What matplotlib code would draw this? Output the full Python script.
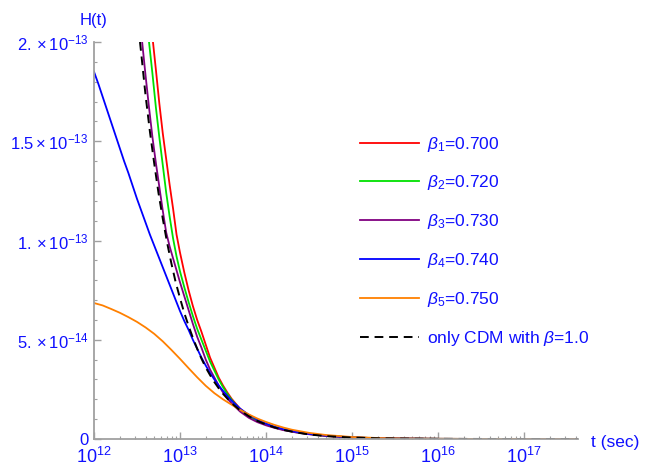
import numpy as np
import matplotlib
matplotlib.use("Agg")
import matplotlib.pyplot as plt
from matplotlib.ticker import LogLocator, NullFormatter, FixedLocator

FONT = "Liberation Sans"
plt.rcParams["font.family"] = [FONT, "DejaVu Sans"]
plt.rcParams["mathtext.fontset"] = "custom"
plt.rcParams["mathtext.rm"] = FONT
plt.rcParams["mathtext.it"] = FONT + ":italic"
plt.rcParams["mathtext.bf"] = FONT + ":bold"

# H(t), t as log10(sec), H in units of 1e-13
red_logt = [12.686, 12.72, 12.76, 12.80, 12.84, 12.88, 12.92, 12.96, 13.00, 13.05,
            13.10, 13.15, 13.20, 13.25, 13.30, 13.35, 13.40, 13.45, 13.50, 13.55,
            13.60, 13.70, 13.80, 13.90, 14.00, 14.10, 14.20, 14.35, 14.5, 14.7,
            15.0, 15.3, 15.6, 16.0, 16.5, 17.0, 17.63]
red_h = [2.00, 1.86, 1.69, 1.54, 1.41, 1.28, 1.16, 1.03, 0.94, 0.84,
         0.75, 0.67, 0.60, 0.54, 0.475, 0.41, 0.36, 0.31, 0.27, 0.235,
         0.203, 0.152, 0.117, 0.092, 0.075, 0.060, 0.048, 0.035, 0.025, 0.016,
         0.008, 0.004, 0.002, 0.0008, 0.0003, 0.0001, 0.0]

green_logt = [12.64, 12.68, 12.72, 12.76, 12.80, 12.84, 12.88, 12.92, 12.96, 13.00,
              13.05, 13.10, 13.15, 13.20, 13.25, 13.30, 13.35, 13.40, 13.45, 13.50,
              13.55, 13.60, 13.70, 13.80, 13.90, 14.00, 14.10, 14.20, 14.35, 14.5,
              14.7, 15.0, 15.3, 15.6, 16.0, 16.5, 17.0, 17.63]
green_h = [2.00, 1.84, 1.67, 1.52, 1.38, 1.24, 1.12, 1.01, 0.92, 0.845,
           0.765, 0.69, 0.62, 0.555, 0.50, 0.445, 0.39, 0.345, 0.30, 0.262,
           0.228, 0.198, 0.149, 0.115, 0.090, 0.073, 0.059, 0.047, 0.034, 0.025,
           0.016, 0.008, 0.004, 0.002, 0.0008, 0.0003, 0.0001, 0.0]

purple_logt = [12.56, 12.60, 12.64, 12.68, 12.72, 12.76, 12.80, 12.84, 12.88, 12.92,
               12.96, 13.00, 13.05, 13.10, 13.15, 13.20, 13.25, 13.30, 13.35, 13.40,
               13.45, 13.50, 13.55, 13.60, 13.70, 13.80, 13.90, 14.00, 14.10, 14.20,
               14.35, 14.5, 14.7, 15.0, 15.3, 15.6, 16.0, 16.5, 17.0, 17.63]
purple_h = [2.00, 1.83, 1.67, 1.52, 1.39, 1.27, 1.15, 1.04, 0.97, 0.91,
            0.85, 0.79, 0.72, 0.65, 0.58, 0.515, 0.46, 0.40, 0.35, 0.31,
            0.27, 0.235, 0.205, 0.18, 0.138, 0.107, 0.085, 0.069, 0.056, 0.045,
            0.033, 0.024, 0.015, 0.0075, 0.0037, 0.0019, 0.0007, 0.0003, 0.0001, 0.0]

blue_logt = [12.00, 12.05, 12.10, 12.15, 12.20, 12.25, 12.30, 12.35, 12.40, 12.45,
             12.50, 12.55, 12.60, 12.65, 12.70, 12.75, 12.80, 12.85, 12.90, 12.95,
             13.00, 13.05, 13.10, 13.15, 13.20, 13.25, 13.30, 13.35, 13.40, 13.45,
             13.50, 13.60, 13.70, 13.80, 13.90, 14.00, 14.10, 14.20, 14.35, 14.5,
             14.7, 15.0, 15.3, 15.6, 16.0, 16.5, 17.0, 17.63]
blue_h = [1.85, 1.79, 1.725, 1.66, 1.595, 1.53, 1.465, 1.40, 1.34, 1.275,
          1.21, 1.15, 1.09, 1.03, 0.975, 0.92, 0.865, 0.81, 0.755, 0.70,
          0.645, 0.595, 0.55, 0.50, 0.455, 0.41, 0.37, 0.333, 0.30, 0.27,
          0.243, 0.193, 0.153, 0.122, 0.097, 0.078, 0.062, 0.05, 0.036, 0.026,
          0.017, 0.0082, 0.004, 0.002, 0.0008, 0.0003, 0.0001, 0.0]

orange_logt = [12.0, 12.1, 12.2, 12.3, 12.4, 12.5, 12.6, 12.7, 12.8, 12.9,
               13.0, 13.1, 13.2, 13.3, 13.4, 13.5, 13.6, 13.7, 13.8, 13.9,
               14.0, 14.1, 14.2, 14.3, 14.5, 14.7, 15.0, 15.3, 15.6, 16.0,
               16.5, 17.0, 17.63]
orange_h = [0.685, 0.673, 0.655, 0.636, 0.614, 0.590, 0.562, 0.530, 0.492, 0.449,
            0.404, 0.357, 0.311, 0.268, 0.231, 0.200, 0.173, 0.147, 0.124, 0.103,
            0.086, 0.071, 0.058, 0.047, 0.031, 0.02, 0.01, 0.005, 0.0025, 0.001,
            0.0003, 0.0001, 0.0]

cdm_logt = [12.535, 12.55, 12.60, 12.65, 12.70, 12.75, 12.80, 12.85, 12.90, 12.95,
            13.00, 13.05, 13.10, 13.15, 13.20, 13.25, 13.30, 13.35, 13.40, 13.45,
            13.50, 13.60, 13.70, 13.80, 13.90, 14.00, 14.10, 14.20, 14.35, 14.50,
            14.70, 15.00, 15.30, 15.60, 16.00, 16.5, 17.0, 17.63]
cdm_h = [2.0, 1.94, 1.73, 1.55, 1.39, 1.24, 1.11, 0.99, 0.885, 0.79,
         0.71, 0.635, 0.57, 0.51, 0.455, 0.405, 0.36, 0.322, 0.287, 0.256,
         0.228, 0.181, 0.144, 0.115, 0.091, 0.073, 0.058, 0.046, 0.033, 0.023,
         0.0145, 0.0073, 0.0036, 0.0018, 0.0007, 0.0002, 0.00007, 0.0]

labels = [r"$\beta_1$=0.700", r"$\beta_2$=0.720", r"$\beta_3$=0.730",
          r"$\beta_4$=0.740", r"$\beta_5$=0.750", r"only CDM with $\beta$=1.0"]
colors = ["#ff0000", "#00e000", "#800080", "#0000ff", "#ff8000", "black"]

ytick_vals = [0, 0.5e-13, 1e-13, 1.5e-13, 2e-13]
ytick_labels = ["0", r"$5.\times10^{-14}$", r"$1.\times10^{-13}$",
                r"$1.5\times10^{-13}$", r"$2.\times10^{-13}$"]

TXT = "#1010ff"
AX = "#a0a0a0"

fig = plt.figure(figsize=(6.46, 4.67), dpi=100)
ax = fig.add_axes([94 / 646, 28 / 467, 484 / 646, 397 / 467])

series = [(red_logt, red_h), (green_logt, green_h), (purple_logt, purple_h),
          (blue_logt, blue_h), (orange_logt, orange_h)]
for (lt, h), c, lab in zip(series, colors[:5], labels[:5]):
    ax.plot(10 ** np.array(lt), np.array(h) * 1e-13, color=c, lw=1.3, label=lab)
ax.plot(10 ** np.array(cdm_logt), np.array(cdm_h) * 1e-13, color="black", lw=1.4,
        ls=(0, (4.5, 3)), label=labels[5])

ax.set_xscale("log")
ax.set_xlim(1e12, 10 ** 17.63)
ax.set_ylim(0, 2e-13)

ax.xaxis.set_major_locator(LogLocator(base=10, numticks=20))
ax.xaxis.set_minor_locator(LogLocator(base=10, subs=np.arange(2, 10), numticks=50))
ax.xaxis.set_minor_formatter(NullFormatter())
ax.set_yticks(ytick_vals)
ax.set_yticklabels(ytick_labels)
ax.yaxis.set_minor_locator(FixedLocator(np.arange(0, 2.01e-13, 0.1e-13)))

for s in ["top", "right"]:
    ax.spines[s].set_visible(False)
for s in ["left", "bottom"]:
    ax.spines[s].set_color(AX)
    ax.spines[s].set_linewidth(1.3)

ax.tick_params(which="both", direction="in", color=AX, labelcolor=TXT)
ax.tick_params(which="major", length=5, width=1)
ax.tick_params(which="minor", length=2.5, width=0.8)
ax.tick_params(axis="y", pad=4, labelsize=12)
ax.tick_params(axis="x", pad=6, labelsize=13)

fig.text(94 / 646, 1 - 21 / 467, "H(t)", color=TXT, fontsize=12, ha="center", va="center")
fig.text(615 / 646, 1 - 442 / 467, "t (sec)", color=TXT, fontsize=12.5, ha="center", va="center")

leg = ax.legend(loc="upper left", bbox_to_anchor=(344 / 646, 1 - 119 / 467),
                bbox_transform=fig.transFigure, frameon=False, fontsize=12.5,
                labelcolor=TXT, handlelength=3.4, handletextpad=0.5, labelspacing=1.14)

fig.savefig("out.png", dpi=100)
